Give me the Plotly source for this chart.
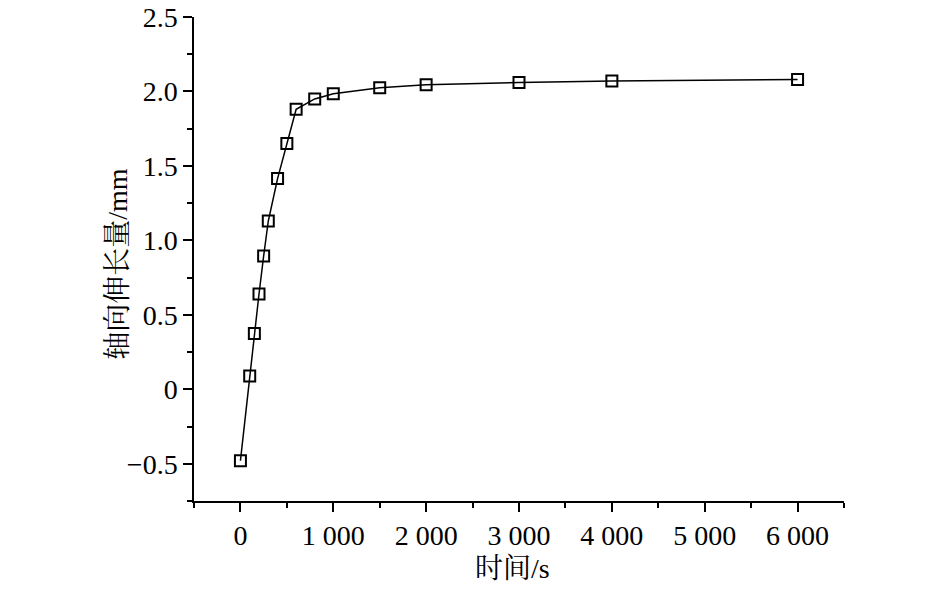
import plotly.graph_objects as go

time_s = [0, 100, 150, 200, 250, 300, 400, 500, 600, 800, 1000, 1500, 2000, 3000, 4000, 6000]
elongation_mm = [-0.48, 0.09, 0.375, 0.64, 0.895, 1.13, 1.415, 1.65, 1.88, 1.95, 1.985, 2.025, 2.045, 2.06, 2.07, 2.08]

y_tick_vals = [-0.5, 0, 0.5, 1.0, 1.5, 2.0, 2.5]
y_tick_text = ["\u22120.5", "0", "0.5", "1.0", "1.5", "2.0", "2.5"]

x_title = "时间/s"
y_title = "轴向伸长量/mm"

font_family = "Liberation Serif, Times New Roman, Noto Serif CJK SC, Noto Sans CJK SC, serif"
fs = 28

fig = go.Figure()
fig.add_trace(go.Scatter(
    x=time_s, y=elongation_mm, mode="lines+markers",
    line=dict(color="black", width=1.5),
    marker=dict(symbol="square-open", size=11, color="black", line=dict(width=2, color="black")),
    showlegend=False, cliponaxis=False,
))

axis_common = dict(
    showgrid=False, zeroline=False, showline=True, linecolor="black", linewidth=1.5,
    ticks="outside", ticklen=9, tickwidth=1.5, tickcolor="black",
    tickfont=dict(family=font_family, size=fs, color="black"),
    automargin=False, ticklabeloverflow="allow",
)

fig.update_xaxes(
    range=[-500, 6500], tickmode="linear", tick0=0, dtick=1000,
    minor=dict(dtick=500, tick0=0, ticks="outside", ticklen=5, tickwidth=1.5, tickcolor="black"),
    tickformat=",d",
    **axis_common,
)
fig.update_yaxes(
    range=[-0.75, 2.5], tickmode="array", tickvals=y_tick_vals, ticktext=y_tick_text,
    minor=dict(dtick=0.25, tick0=0, ticks="outside", ticklen=5, tickwidth=1.5, tickcolor="black"),
    **axis_common,
)

fig.add_annotation(text=x_title, xref="paper", yref="paper", x=0.49, y=-0.14,
                   xanchor="center", yanchor="middle", showarrow=False,
                   font=dict(family=font_family, size=fs, color="black"))
fig.add_annotation(text=y_title, xref="paper", yref="paper", x=-0.117, y=0.49,
                   xanchor="center", yanchor="middle", textangle=-90, showarrow=False,
                   font=dict(family=font_family, size=fs, color="black"))

fig.update_layout(
    width=945, height=591,
    margin=dict(l=186, r=109, t=9, b=98),
    plot_bgcolor="white", paper_bgcolor="white",
    separators=". ",
    font=dict(family=font_family, color="black"),
)

fig.write_html("out.html")
